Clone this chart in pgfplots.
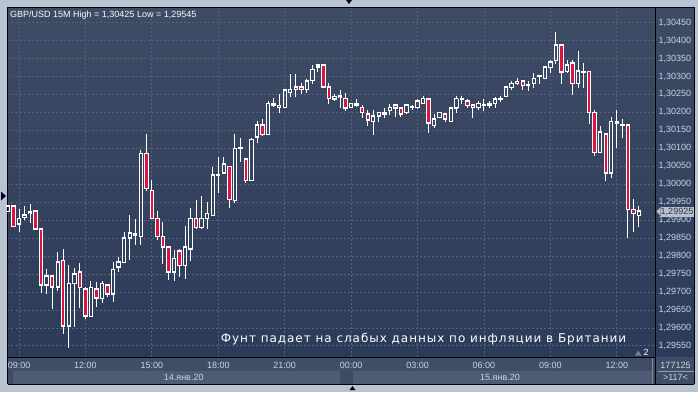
\documentclass[border=0pt]{standalone}
\usepackage{pgfplots}
\pgfplotsset{compat=1.18}
\usepackage{pgfplotstable}
\usepackage{fontspec}
\setmainfont{Liberation Sans}
\newfontfamily\annfont[LetterSpace=8]{DejaVu Sans}
\definecolor{framec}{HTML}{B9C4D2}
\definecolor{bgtop}{HTML}{3E4B65}
\definecolor{bgbot}{HTML}{2C3B59}
\definecolor{gridc}{HTML}{52627F}
\definecolor{lbl}{HTML}{C9D3E3}
\definecolor{band1}{HTML}{404D66}
\definecolor{band2}{HTML}{4E5B75}
\definecolor{bear}{HTML}{DE1440}
\definecolor{pricebg}{HTML}{B8C0CC}
\definecolor{pricetx}{HTML}{2E3748}
\pgfplotstableread{
i o h l c
-2 1.29924 1.29940 1.29924 1.29940
-1 1.29939 1.29940 1.29883 1.29883
0 1.29889 1.29931 1.29868 1.29905
1 1.29908 1.29938 1.29903 1.29914
2 1.29921 1.29945 1.29893 1.29922
3 1.29926 1.29930 1.29875 1.29875
4 1.29875 1.29875 1.29698 1.29719
5 1.29719 1.29764 1.29694 1.29744
6 1.29744 1.29744 1.29653 1.29714
7 1.29714 1.29814 1.29704 1.29783
8 1.29788 1.29820 1.29583 1.29605
9 1.29605 1.29775 1.29545 1.29724
10 1.29724 1.29768 1.29604 1.29750
11 1.29755 1.29783 1.29657 1.29713
12 1.29708 1.29715 1.29624 1.29633
13 1.29632 1.29732 1.29632 1.29713
14 1.29709 1.29729 1.29660 1.29683
15 1.29682 1.29731 1.29669 1.29724
16 1.29719 1.29723 1.29687 1.29694
17 1.29694 1.29783 1.29674 1.29763
18 1.29769 1.29799 1.29757 1.29783
19 1.29782 1.29868 1.29782 1.29850
20 1.29850 1.29914 1.29788 1.29864
21 1.29863 1.29905 1.29832 1.29858
22 1.29855 1.30095 1.29830 1.30086
23 1.30086 1.30140 1.29982 1.29988
24 1.29983 1.30014 1.29905 1.29905
25 1.29905 1.29926 1.29845 1.29855
26 1.29855 1.29896 1.29779 1.29825
27 1.29825 1.29827 1.29734 1.29755
28 1.29755 1.29817 1.29732 1.29793
29 1.29814 1.29820 1.29743 1.29774
30 1.29774 1.29884 1.29738 1.29825
31 1.29819 1.29934 1.29787 1.29905
32 1.29905 1.29956 1.29878 1.29880
33 1.29880 1.29968 1.29878 1.29905
34 1.29905 1.29952 1.29875 1.29919
35 1.29913 1.30049 1.29913 1.30026
36 1.30026 1.30077 1.29975 1.30027
37 1.30031 1.30077 1.30031 1.30056
38 1.30050 1.30050 1.29933 1.29958
39 1.29954 1.30140 1.29947 1.30100
40 1.30100 1.30131 1.30063 1.30101
41 1.30070 1.30070 1.30005 1.30010
42 1.30010 1.30131 1.30010 1.30125
43 1.30131 1.30176 1.30114 1.30165
44 1.30165 1.30182 1.30135 1.30139
45 1.30139 1.30232 1.30139 1.30225
46 1.30225 1.30241 1.30216 1.30220
47 1.30219 1.30251 1.30199 1.30214
48 1.30214 1.30263 1.30214 1.30263
49 1.30255 1.30307 1.30244 1.30264
50 1.30264 1.30307 1.30244 1.30270
51 1.30270 1.30281 1.30250 1.30264
52 1.30264 1.30295 1.30255 1.30288
53 1.30289 1.30332 1.30280 1.30320
54 1.30326 1.30332 1.30314 1.30332
55 1.30332 1.30332 1.30270 1.30270
56 1.30270 1.30281 1.30225 1.30239
57 1.30237 1.30251 1.30233 1.30244
58 1.30245 1.30263 1.30213 1.30246
59 1.30239 1.30253 1.30205 1.30212
60 1.30214 1.30225 1.30214 1.30225
61 1.30225 1.30237 1.30214 1.30220
62 1.30214 1.30221 1.30184 1.30199
63 1.30195 1.30207 1.30163 1.30179
64 1.30175 1.30207 1.30139 1.30190
65 1.30190 1.30200 1.30175 1.30200
66 1.30195 1.30212 1.30184 1.30200
67 1.30205 1.30225 1.30195 1.30214
68 1.30221 1.30225 1.30186 1.30212
69 1.30212 1.30212 1.30188 1.30195
70 1.30200 1.30221 1.30195 1.30221
71 1.30214 1.30221 1.30205 1.30215
72 1.30213 1.30239 1.30212 1.30232
73 1.30225 1.30246 1.30225 1.30239
74 1.30237 1.30237 1.30144 1.30170
75 1.30163 1.30195 1.30160 1.30182
76 1.30186 1.30200 1.30186 1.30200
77 1.30195 1.30200 1.30174 1.30181
78 1.30174 1.30214 1.30174 1.30212
79 1.30212 1.30246 1.30199 1.30239
80 1.30237 1.30246 1.30225 1.30238
81 1.30232 1.30237 1.30212 1.30219
82 1.30220 1.30220 1.30186 1.30214
83 1.30214 1.30232 1.30205 1.30225
84 1.30220 1.30237 1.30205 1.30221
85 1.30220 1.30232 1.30212 1.30225
86 1.30225 1.30244 1.30212 1.30237
87 1.30237 1.30246 1.30230 1.30238
88 1.30244 1.30270 1.30244 1.30270
89 1.30269 1.30288 1.30263 1.30281
90 1.30286 1.30295 1.30275 1.30281
91 1.30288 1.30288 1.30263 1.30275
92 1.30275 1.30288 1.30260 1.30276
93 1.30281 1.30312 1.30269 1.30295
94 1.30300 1.30300 1.30279 1.30301
95 1.30294 1.30326 1.30294 1.30326
96 1.30325 1.30346 1.30311 1.30340
97 1.30344 1.30425 1.30337 1.30388
98 1.30388 1.30391 1.30279 1.30312
99 1.30314 1.30346 1.30312 1.30332
100 1.30337 1.30346 1.30249 1.30281
101 1.30281 1.30371 1.30269 1.30315
102 1.30312 1.30339 1.30269 1.30313
103 1.30314 1.30314 1.30168 1.30199
104 1.30199 1.30207 1.30079 1.30089
105 1.30089 1.30162 1.30089 1.30145
106 1.30140 1.30140 1.30009 1.30031
107 1.30031 1.30188 1.30017 1.30174
108 1.30175 1.30207 1.30100 1.30170
109 1.30166 1.30182 1.30131 1.30165
110 1.30165 1.30165 1.29850 1.29930
111 1.29930 1.29959 1.29868 1.29919
112 1.29913 1.29940 1.29882 1.29925
}\candles
\begin{document}
\begin{tikzpicture}[x=1bp,y=1bp]
\fill[framec] (0,0) rectangle (698,392);
% right price panel
\shade[top color=bgtop, bottom color=bgbot] (655,35) rectangle (694,384.5);
% time bands
\fill[band1] (7.5,21) rectangle (694,35);
\fill[bgtop] (7.5,8) rectangle (694,21);
\fill[band2] (13.3,8) rectangle (340,21);
\fill[band2] (353.3,8) rectangle (651.5,21);
\fill[band1] (655,8) rectangle (694,35);
\draw[black, line width=1bp] (7.5,8) -- (694,8);
\draw[black, line width=1bp] (655,8) -- (655,35);
\draw[black, line width=1bp] (694,8) -- (694,384.5) -- (7.5,384.5) -- (7.5,8);
\draw[lbl!60!band1, line width=0.8bp] (658,20.5) -- (694,20.5);
\draw[band2!70!white, line width=0.6bp] (651.8,8) -- (651.8,35);
\begin{axis}[
  at={(7.5bp,35bp)}, anchor=south west, scale only axis,
  width=647.5bp, height=349.5bp,
  xmin=-2.08, xmax=114.9, ymin=1.29519, ymax=1.30492,
  axis background/.style={shade, top color=bgtop, bottom color=bgbot},
  axis line style={black, line width=1bp},
  tick style={draw=none},
  xtick={0,12,24,36,48,60,72,84,96,108},
  xticklabels={09:00,12:00,15:00,18:00,21:00,00:00,03:00,06:00,09:00,12:00},
  ytick={1.2955,1.296,1.2965,1.297,1.2975,1.298,1.2985,1.299,1.2995,1.3,1.3005,1.301,1.3015,1.302,1.3025,1.303,1.3035,1.304,1.3045},
  yticklabels={{1,29550},{1,29600},{1,29650},{1,29700},{1,29750},{1,29800},{1,29850},{1,29900},{1,29950},{1,30000},{1,30050},{1,30100},{1,30150},{1,30200},{1,30250},{1,30300},{1,30350},{1,30400},{1,30450}},
  yticklabel pos=right,
  grid=major,
  grid style={gridc, dash pattern=on 2bp off 2bp, line width=0.8bp},
  xticklabel style={font=\fontsize{9bp}{10bp}\selectfont, text=lbl, anchor=center, inner sep=0pt, yshift=-8.5bp},
  yticklabel style={font=\fontsize{9bp}{10bp}\selectfont, text=lbl, anchor=west, inner sep=0pt, xshift=3.3bp},
]
% upper wicks
\addplot [draw=none, forget plot, error bars/.cd, y dir=both, y explicit, error mark=none,
  error bar style={draw=white, solid, line width=1bp}]
  table [x=i, y expr={(\thisrow{h}+max(\thisrow{o},\thisrow{c}))/2},
    y error expr={(\thisrow{h}-max(\thisrow{o},\thisrow{c}))/2}] {\candles};
% lower wicks
\addplot [draw=none, forget plot, error bars/.cd, y dir=both, y explicit, error mark=none,
  error bar style={draw=white, solid, line width=1bp}]
  table [x=i, y expr={(\thisrow{l}+min(\thisrow{o},\thisrow{c}))/2},
    y error expr={(min(\thisrow{o},\thisrow{c})-\thisrow{l})/2}] {\candles};
% bearish bodies: white outline
\addplot [draw=none, forget plot, error bars/.cd, y dir=both, y explicit, error mark=none,
  error bar style={draw=white, solid, line width=4.4bp}]
  table [x=i, y expr={(\thisrow{o}+\thisrow{c})/2},
    y error expr={max(\thisrow{o}-\thisrow{c},0)/2}] {\candles};
% bullish bodies: sides
\addplot [draw=none, forget plot, error bars/.cd, y dir=both, y explicit, error mark=none,
  error bar style={draw=white, solid, line width=1bp}]
  table [x expr={\thisrow{i}-0.3074}, y expr={(\thisrow{o}+\thisrow{c})/2},
    y error expr={max(\thisrow{c}-\thisrow{o},0)/2}] {\candles};
\addplot [draw=none, forget plot, error bars/.cd, y dir=both, y explicit, error mark=none,
  error bar style={draw=white, solid, line width=1bp}]
  table [x expr={\thisrow{i}+0.3074}, y expr={(\thisrow{o}+\thisrow{c})/2},
    y error expr={max(\thisrow{c}-\thisrow{o},0)/2}] {\candles};
% body ends
\addplot [only marks, forget plot, mark=-, mark size=2.2bp, mark options={draw=white, solid, line width=1.5bp}]
  table [x=i, y=o] {\candles};
\addplot [only marks, forget plot, mark=-, mark size=2.2bp, mark options={draw=white, solid, line width=1.5bp}]
  table [x=i, y=c] {\candles};
% bearish fill
\addplot [draw=none, forget plot, error bars/.cd, y dir=both, y explicit, error mark=none,
  error bar style={draw=bear, solid, line width=2.4bp}]
  table [x=i, y expr={(\thisrow{o}+\thisrow{c})/2},
    y error expr={max(\thisrow{o}-\thisrow{c},0)/2}] {\candles};
\end{axis}
% title
\node[anchor=west, inner sep=0pt, text=white!90!lbl, font=\fontsize{9bp}{10bp}\selectfont] at (10,377) {GBP/USD 15M High = 1,30425 Low = 1,29545};
% annotation
\node[inner sep=0pt, text=white, font=\annfont\fontsize{12bp}{14bp}\selectfont] at (423.5,53) {Фунт падает на слабых данных по инфляции в Британии};
% current price label
\fill[pricebg] (660.5,175.5) rectangle (693.5,185.5);
\fill[pricebg] (656.5,180.5) -- (660.6,184.8) -- (660.6,176.2) -- cycle;
\node[inner sep=0pt, text=pricetx, font=\fontsize{9bp}{10bp}\selectfont] at (677,180.5) {1,29925};
% bottom right box
\node[inner sep=0pt, text=lbl, font=\fontsize{9bp}{10bp}\selectfont] at (675.5,27) {177125};
\node[inner sep=0pt, text=lbl, font=\fontsize{9bp}{10bp}\selectfont] at (675.5,14.5) {>117<};
% date labels
\node[inner sep=0pt, text=lbl, font=\fontsize{9bp}{10bp}\selectfont] at (183.7,14.5) {14.янв.20};
\node[inner sep=0pt, text=lbl, font=\fontsize{9bp}{10bp}\selectfont] at (500,14.5) {15.янв.20};
% small markers
\fill[gridc!80!white] (635,36.5) -- (641.5,36.5) -- (638.25,41.5) -- cycle;
\node[inner sep=0pt, text=white!85!lbl, font=\fontsize{9bp}{10bp}\selectfont] at (646,40) {2};
\fill[black!85!blue] (1,200.5) -- (6,196) -- (1,191.5) -- cycle;
\fill[black!85!blue] (346,392) -- (352,392) -- (349,388) -- cycle;
\fill[black!85!blue] (349.5,2) -- (355.5,2) -- (352.5,6) -- cycle;
\end{tikzpicture}
\end{document}
